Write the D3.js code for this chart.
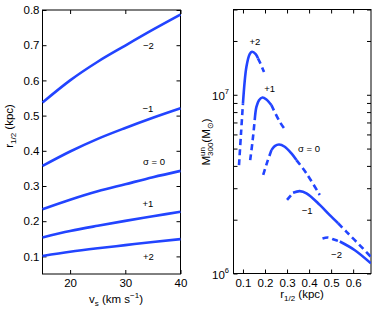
<!DOCTYPE html>
<html>
<head>
<meta charset="utf-8">
<script src="https://cdn.jsdelivr.net/npm/d3@7"></script>
<style>
  body { margin: 0; background: #fff; }
  text { font-family: "Liberation Sans", Arial, Helvetica, sans-serif; fill: #000; }
</style>
</head>
<body>
<div id="chart"></div>
<script>
// left panel: r_1/2 vs v_s for each sigma
const vs = [15, 20, 25, 30, 35, 40];
const rSigM2 = [0.537, 0.600, 0.653, 0.699, 0.744, 0.787];
const rSigM1 = [0.357, 0.398, 0.434, 0.465, 0.494, 0.521];
const rSig0  = [0.234, 0.261, 0.285, 0.305, 0.325, 0.343];
const rSigP1 = [0.154, 0.172, 0.187, 0.201, 0.214, 0.227];
const rSigP2 = [0.101, 0.113, 0.123, 0.132, 0.141, 0.149];
const vsTicks = [20, 30, 40];
const rTicks = [0.1, 0.2, 0.3, 0.4, 0.5, 0.6, 0.7, 0.8];

// right panel: M300 vs r_1/2, solid between the two indices, dashed outside
const rP2 = [0.082, 0.0909, 0.100, 0.1155, 0.1305, 0.141, 0.1577, 0.168, 0.179, 0.1955];
const mP2 = [4.04e6, 6.03e6, 8.97e6, 1.43e7, 1.69e7, 1.74e7, 1.69e7, 1.60e7, 1.50e7, 1.34e7];
const solidP2 = [2, 7];
const rP1 = [0.1327, 0.144, 0.1532, 0.161, 0.1727, 0.1882, 0.2064, 0.2291, 0.2668, 0.2927];
const mP1 = [4.31e6, 5.57e6, 7.21e6, 8.55e6, 9.33e6, 9.66e6, 9.42e6, 8.75e6, 7.06e6, 6.34e6];
const solidP1 = [2, 7];
const r0 = [0.1918, 0.210, 0.2291, 0.2441, 0.2636, 0.2895, 0.320, 0.3427, 0.3882, 0.4486];
const m0 = [3.56e6, 4.20e6, 4.90e6, 5.16e6, 5.27e6, 5.12e6, 4.70e6, 4.31e6, 3.63e6, 2.75e6];
const solid0 = [2, 7];
const rM1 = [0.300, 0.3273, 0.3577, 0.3882, 0.4486, 0.494, 0.5318, 0.570, 0.625, 0.6805];
const mM1 = [2.58e6, 2.83e6, 2.89e6, 2.81e6, 2.42e6, 2.12e6, 1.91e6, 1.71e6, 1.46e6, 1.24e6];
const solidM1 = [1, 6];
const rM2 = [0.4609, 0.4864, 0.5123, 0.5395, 0.6077, 0.6805];
const mM2 = [1.57e6, 1.59e6, 1.55e6, 1.51e6, 1.35e6, 1.14e6];
const solidM2 = [3, 5];
const rHalfTicks = [0.1, 0.2, 0.3, 0.4, 0.5, 0.6];
const mTicks = [1e6, 2e6, 3e6, 4e6, 5e6, 6e6, 7e6, 8e6, 9e6, 1e7, 2e7, 3e7];
const mMajor = [1e6, 1e7];

// curve labels
const sigmaNames = ["\u22122", "\u22121", "\u03c3 = 0", "+1", "+2"];
const leftLabelV = [34.2, 34.1, 35.2, 34.1, 34.2];
const leftLabelR = [0.700, 0.519, 0.369, 0.249, 0.098];
const rightLabelR = [0.5245, 0.391, 0.40, 0.221, 0.154];
const rightLabelM = [1.27e6, 2.26e6, 5.02e6, 1.08e7, 1.98e7];

const blue = "#2244ff";
const tickFont = 11.5;

const svg = d3.select("#chart").append("svg")
    .attr("width", 374)
    .attr("height", 311);

// scales
const xL = d3.scaleLinear().domain([15, 40]).range([42.5, 180.5]);
const yL = d3.scaleLinear().domain([0.05, 0.8]).range([274, 10]);
const xR = d3.scaleLinear().domain([0.057, 0.681]).range([233.5, 371]);
const yR = d3.scaleLog().domain([1e6, 3e7]).range([273.5, 9.5]);

function styleAxis(g) {
    g.select(".domain").remove();
    g.selectAll("line").attr("stroke", "#000");
    g.selectAll("text").attr("font-size", tickFont).attr("font-family", "Liberation Sans, Arial, sans-serif");
}

function frame(x0, x1, y0, y1) {
    svg.append("rect")
        .attr("x", x0).attr("y", y0)
        .attr("width", x1 - x0).attr("height", y1 - y0)
        .attr("fill", "none").attr("stroke", "#000").attr("stroke-width", 1);
}

// ---------- left panel ----------
svg.append("g").attr("transform", "translate(0,274)")
    .call(d3.axisBottom(xL).tickValues(vsTicks).tickSize(-4).tickPadding(5).tickFormat(d3.format("d")))
    .call(styleAxis);
svg.append("g").attr("transform", "translate(0,10)")
    .call(d3.axisTop(xL).tickValues(vsTicks).tickSize(-4).tickFormat(""))
    .call(styleAxis);
svg.append("g").attr("transform", "translate(42.5,0)")
    .call(d3.axisLeft(yL).tickValues(rTicks).tickSize(-4).tickPadding(3).tickFormat(d3.format(".1f")))
    .call(styleAxis);
svg.append("g").attr("transform", "translate(180.5,0)")
    .call(d3.axisRight(yL).tickValues(rTicks).tickSize(-4).tickFormat(""))
    .call(styleAxis);
frame(42.5, 180.5, 10, 274);

const lineL = d3.line()
    .x((d, i) => xL(vs[i]))
    .y(d => yL(d))
    .curve(d3.curveMonotoneX);

[rSigM2, rSigM1, rSig0, rSigP1, rSigP2].forEach(series => {
    svg.append("path")
        .attr("d", lineL(series))
        .attr("fill", "none")
        .attr("stroke", blue)
        .attr("stroke-width", 2.6);
});

sigmaNames.forEach((name, i) => {
    svg.append("text")
        .attr("x", xL(leftLabelV[i]))
        .attr("y", yL(leftLabelR[i]))
        .attr("dy", "0.35em")
        .attr("text-anchor", "middle")
        .attr("font-size", 9.5)
        .text(name);
});

// left axis titles
const tyL = svg.append("text")
    .attr("transform", "translate(13,126) rotate(-90)")
    .attr("text-anchor", "middle")
    .attr("font-size", 11.5);
tyL.append("tspan").text("r");
tyL.append("tspan").attr("font-size", 8).attr("dy", 3).text("1/2");
tyL.append("tspan").attr("dy", -3).text(" (kpc)");

const txL = svg.append("text")
    .attr("x", 116).attr("y", 302.5)
    .attr("text-anchor", "middle")
    .attr("font-size", 11.5);
txL.append("tspan").text("v");
txL.append("tspan").attr("font-size", 8).attr("dy", 3).text("s");
txL.append("tspan").attr("dy", -3).text(" (km s");
txL.append("tspan").attr("font-size", 8).attr("dy", -5).text("\u22121");
txL.append("tspan").attr("dy", 5).text(")");

// ---------- right panel ----------
svg.append("g").attr("transform", "translate(0,273.5)")
    .call(d3.axisBottom(xR).tickValues(rHalfTicks).tickSize(-4).tickPadding(5).tickFormat(d3.format(".1f")))
    .call(styleAxis);
svg.append("g").attr("transform", "translate(0,9.5)")
    .call(d3.axisTop(xR).tickValues(rHalfTicks).tickSize(-4).tickFormat(""))
    .call(styleAxis);
svg.append("g").attr("transform", "translate(233.5,0)")
    .call(d3.axisLeft(yR).tickValues(mTicks).tickSize(-4).tickFormat(""))
    .call(styleAxis);
svg.append("g").attr("transform", "translate(371,0)")
    .call(d3.axisRight(yR).tickValues(mTicks).tickSize(-4).tickFormat(""))
    .call(styleAxis);
frame(233.5, 371, 9.5, 273.5);

mMajor.forEach(m => {
    const t = svg.append("text")
        .attr("x", 229)
        .attr("y", yR(m) + 5.5)
        .attr("text-anchor", "end")
        .attr("font-size", tickFont);
    t.append("tspan").text("10");
    t.append("tspan").attr("font-size", 7.5).attr("dy", -6.5).text(Math.round(Math.log10(m)));
});

svg.append("clipPath").attr("id", "clipR")
    .append("rect").attr("x", 233.5).attr("y", 9.5).attr("width", 137.5).attr("height", 264);

const lineR = d3.line()
    .x(d => xR(d[0]))
    .y(d => yR(d[1]))
    .curve(d3.curveCatmullRom.alpha(0.5));

const gCurves = svg.append("g").attr("clip-path", "url(#clipR)");
[[rP2, mP2, solidP2], [rP1, mP1, solidP1], [r0, m0, solid0], [rM1, mM1, solidM1], [rM2, mM2, solidM2]]
    .forEach(([rs, ms, solid]) => {
        const pts = rs.map((r, i) => [r, ms[i]]);
        const parts = [
            { p: pts.slice(0, solid[0] + 1), dash: "6,4" },
            { p: pts.slice(solid[0], solid[1] + 1), dash: null },
            { p: pts.slice(solid[1]), dash: "6,4" }
        ];
        parts.forEach(part => {
            if (part.p.length < 2) return;
            gCurves.append("path")
                .attr("d", lineR(part.p))
                .attr("fill", "none")
                .attr("stroke", blue)
                .attr("stroke-width", 2.6)
                .attr("stroke-dasharray", part.dash);
        });
    });

sigmaNames.forEach((name, i) => {
    svg.append("text")
        .attr("x", xR(rightLabelR[i]))
        .attr("y", yR(rightLabelM[i]))
        .attr("dy", "0.35em")
        .attr("text-anchor", "middle")
        .attr("font-size", 9.5)
        .text(name);
});

// right axis titles
const txR = svg.append("text")
    .attr("x", 302).attr("y", 298)
    .attr("text-anchor", "middle")
    .attr("font-size", 11.5);
txR.append("tspan").text("r");
txR.append("tspan").attr("font-size", 8).attr("dy", 3).text("1/2");
txR.append("tspan").attr("dy", -3).text(" (kpc)");

// M^un_300 (M_sun), stacked super/subscript laid out by measuring
const gy = svg.append("g").attr("transform", "translate(210,142) rotate(-90)");
function piece(str, size, dy) {
    return gy.append("text").attr("font-size", size).attr("y", dy).text(str);
}
const pM = piece("M", 11.5, 0);
const pUn = piece("un", 8, -5.5);
const p300 = piece("300", 8, 3);
const pOpen = piece(" (M", 11.5, 0);
const pSun = piece("\u2299", 8, 3);
const pClose = piece(" )", 11.5, 0);
const wM = pM.node().getComputedTextLength();
const wStack = Math.max(pUn.node().getComputedTextLength(), p300.node().getComputedTextLength());
const wOpen = pOpen.node().getComputedTextLength();
const wSun = pSun.node().getComputedTextLength();
const wClose = pClose.node().getComputedTextLength();
const total = wM + wStack + wOpen + wSun + wClose;
let x = -total / 2;
pM.attr("x", x); x += wM;
pUn.attr("x", x); p300.attr("x", x); x += wStack;
pOpen.attr("x", x); x += wOpen;
pSun.attr("x", x); x += wSun;
pClose.attr("x", x);
</script>
</body>
</html>
